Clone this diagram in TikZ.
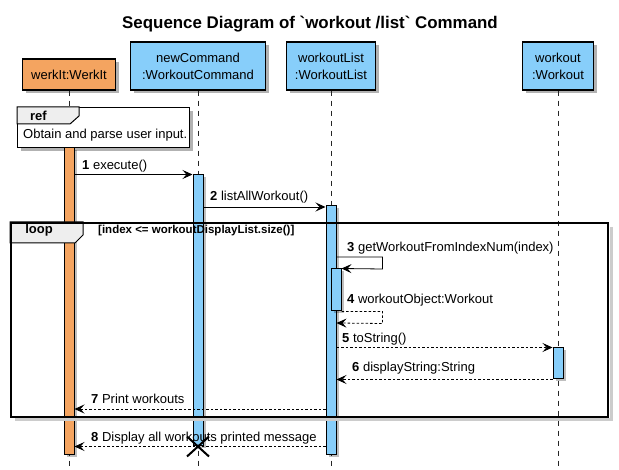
\documentclass[tikz,border=0pt]{standalone}
\usepackage{fontspec}
\setmainfont{Liberation Sans}
\usetikzlibrary{arrows.meta,shapes.misc,shadows}

\definecolor{actorange}{RGB}{244,164,96}
\definecolor{partblue}{RGB}{135,206,250}
\definecolor{tabgray}{RGB}{238,238,238}

\tikzset{
  txt/.style={font=\fontsize{13}{17}\selectfont},
  boldtxt/.style={font=\fontsize{13}{17}\selectfont\bfseries},
  softshadow/.style={drop shadow={shadow xshift=3.5pt,shadow yshift=-3.5pt,opacity=.3,fill=black}},
  part/.style={txt,draw,line width=1.2pt,align=center,inner sep=0pt,softshadow},
  actbar/.style={draw,line width=1pt,minimum width=10pt,inner sep=0pt,
    drop shadow={shadow xshift=2.5pt,shadow yshift=-2.5pt,opacity=.25,fill=black}},
  life/.style={black!85,line width=.8pt,dash pattern=on 5pt off 5pt},
  msg/.style={-{Stealth[length=10pt,width=9pt,inset=4pt]},line width=.8pt},
  reply/.style={msg,dash pattern=on 2.5pt off 2pt},
  lbl/.style={txt,anchor=base west,inner sep=0pt},
}

\begin{document}
\begin{tikzpicture}[x=1pt,y=-1pt]
  \useasboundingbox (0,0) rectangle (619,470);
  \coordinate (bottom) at (0,470);

  % title
  \node[font=\fontsize{16.9}{19}\selectfont\bfseries,anchor=base] (title) at (310,29)
    {Sequence Diagram of \textasciigrave workout /list\textasciigrave{} Command};

  % participants
  \node[part,fill=actorange,minimum width=93pt,minimum height=31pt] (werkIt) at (69,74.5) {werkIt:WerkIt};
  \node[part,fill=partblue,minimum width=135pt,minimum height=48pt] (newCmd) at (198,66) {newCommand\\:WorkoutCommand};
  \node[part,fill=partblue,minimum width=89pt,minimum height=48pt] (wkList) at (331,66) {workoutList\\:WorkoutList};
  \node[part,fill=partblue,minimum width=71pt,minimum height=48pt] (wkout) at (558,66) {workout\\:Workout};

  % lifelines
  \foreach \p in {werkIt,newCmd,wkList,wkout}
    \draw[life] (\p.south) -- (\p.south |- bottom);

  % ref frame
  \node[draw,line width=1.2pt,fill=white,minimum width=172pt,minimum height=40pt,
    anchor=north west,softshadow] (ref) at (17,107) {};
  \draw[line width=1pt,fill=tabgray] (ref.north west) -- ++(62,0) -- ++(0,9) -- ++(-9,8) -- ++(-53,0) -- cycle;
  \node[boldtxt,anchor=base] (refLbl) at (38.5,121) {ref};
  \node[lbl] (refTxt) at (23,139) {Obtain and parse user input.};

  % activation bars
  \node[actbar,fill=actorange,minimum height=307pt] (barWerk) at (69,301.5) {};
  \node[actbar,fill=partblue,minimum height=271pt] (barCmd) at (198,310.5) {};
  \node[actbar,fill=partblue,minimum height=249pt] (barList) at (331,330.5) {};
  \node[actbar,fill=partblue,minimum height=42pt] (barSelf) at (336,290) {};
  \node[actbar,fill=partblue,minimum height=31pt] (barWkout) at (558,363.5) {};

  % messages
  \draw[msg] (barWerk.east |- barCmd.north) -- (barCmd.north west);
  \node[lbl] (m1) at (82,170) {\textbf{1} execute()};
  \draw[msg] (barCmd.east |- 0,207) -- (barList.west |- 0,207);
  \node[lbl] (m2) at (210,201) {\textbf{2} listAllWorkout()};
  \draw[msg] (barList.east |- 0,257) -- ++(46,0) -- ++(0,12) -- (barSelf.north east);
  \node[lbl] (m3) at (347,252) {\textbf{3} getWorkoutFromIndexNum(index)};
  \draw[reply] (barSelf.south east) -- ++(41,0) -- ++(0,12) -- (barList.east |- 0,323);
  \node[lbl] (m4) at (347,304) {\textbf{4} workoutObject:Workout};
  \draw[reply] (barList.east |- barWkout.north) -- (barWkout.north west);
  \node[lbl] (m5) at (342,343) {\textbf{5} toString()};
  \draw[reply] (barWkout.south west) -- (barList.east |- barWkout.south);
  \node[lbl] (m6) at (352,372) {\textbf{6} displayString:String};
  \draw[reply] (barList.west |- 0,409) -- (barWerk.east |- 0,409);
  \node[lbl] (m7) at (91,404) {\textbf{7} Print workouts};
  \draw[reply] (barList.west |- barCmd.south) -- (barWerk.east |- barCmd.south);
  \node[lbl] (m8) at (91,442) {\textbf{8} Display all workouts printed message};

  % loop fragment
  \draw[black!20,line width=3pt] (611,227) -- (611,420) -- (15,420);
  \draw[line width=1pt,fill=tabgray] (10,222) -- ++(73,0) -- ++(0,13) -- ++(-8,8) -- ++(-65,0) -- cycle;
  \node[draw,line width=2pt,minimum width=597pt,minimum height=194pt,anchor=north west] (loop) at (10,222) {};
  \node[boldtxt,anchor=base] (loopLbl) at (39,234) {loop};
  \node[font=\fontsize{11.5}{13}\selectfont\bfseries,anchor=base west,inner sep=0pt] (loopCond) at (98,234)
    {[index <= workoutDisplayList.size()]};

  % destroy
  \node[cross out,draw,line width=2pt,minimum width=20pt,minimum height=18pt,inner sep=0pt] (kill) at (barCmd.south) {};
\end{tikzpicture}
\end{document}
